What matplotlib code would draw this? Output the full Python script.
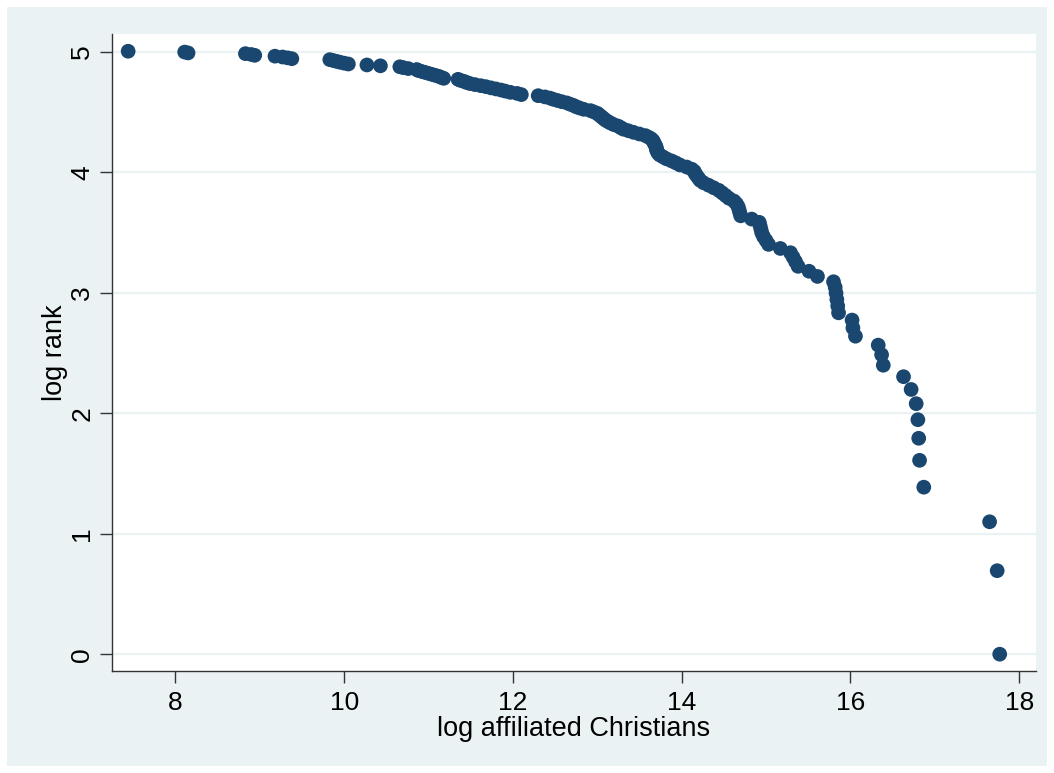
import matplotlib
matplotlib.use("Agg")
import matplotlib.pyplot as plt
from matplotlib.patches import Rectangle

plt.rcParams['font.family'] = ['Liberation Sans', 'DejaVu Sans']

# log affiliated Christians, ordered by rank 1..149
log_christians = [
    17.77, 17.74, 17.65, 16.87, 16.82, 16.81, 16.80, 16.78, 16.72, 16.63,
    16.39, 16.37, 16.33, 16.06, 16.03, 16.02, 15.86, 15.85, 15.84, 15.83,
    15.82, 15.80, 15.61, 15.51, 15.38, 15.35, 15.32, 15.29, 15.17, 15.03,
    15.00, 14.97, 14.95, 14.94, 14.93, 14.92, 14.83, 14.70, 14.69, 14.68,
    14.67, 14.65, 14.62, 14.56, 14.52, 14.48, 14.44, 14.38, 14.32, 14.26,
    14.22, 14.20, 14.18, 14.16, 14.15, 14.12, 14.06, 13.98, 13.93, 13.88,
    13.82, 13.78, 13.74, 13.72, 13.71, 13.70, 13.70, 13.69, 13.68, 13.67,
    13.66, 13.64, 13.61, 13.57, 13.50, 13.43, 13.37, 13.31, 13.28, 13.25,
    13.20, 13.16, 13.13, 13.10, 13.08, 13.06, 13.04, 13.02, 13.00, 12.96,
    12.92, 12.84, 12.79, 12.75, 12.72, 12.68, 12.64, 12.58, 12.53, 12.48,
    12.44, 12.38, 12.30, 12.10, 12.05, 11.97, 11.91, 11.86, 11.80, 11.74,
    11.68, 11.62, 11.55, 11.49, 11.45, 11.42, 11.38, 11.35, 11.18, 11.15,
    11.12, 11.08, 11.04, 11.00, 10.96, 10.92, 10.88, 10.86, 10.76, 10.70,
    10.66, 10.43, 10.27, 10.05, 10.00, 9.95, 9.91, 9.87, 9.83, 9.38,
    9.33, 9.27, 9.18, 8.94, 8.90, 8.83, 8.15, 8.11, 7.44,
]

# log rank (ln of rank 1..149)
log_rank = [
    0.000, 0.693, 1.099, 1.386, 1.609, 1.792, 1.946, 2.079, 2.197, 2.303,
    2.398, 2.485, 2.565, 2.639, 2.708, 2.773, 2.833, 2.890, 2.944, 2.996,
    3.045, 3.091, 3.135, 3.178, 3.219, 3.258, 3.296, 3.332, 3.367, 3.401,
    3.434, 3.466, 3.497, 3.526, 3.555, 3.584, 3.611, 3.638, 3.664, 3.689,
    3.714, 3.738, 3.761, 3.784, 3.807, 3.829, 3.850, 3.871, 3.892, 3.912,
    3.932, 3.951, 3.970, 3.989, 4.007, 4.025, 4.043, 4.060, 4.078, 4.094,
    4.111, 4.127, 4.143, 4.159, 4.174, 4.190, 4.205, 4.220, 4.234, 4.248,
    4.263, 4.277, 4.290, 4.304, 4.317, 4.331, 4.344, 4.357, 4.369, 4.382,
    4.394, 4.407, 4.419, 4.431, 4.443, 4.454, 4.466, 4.477, 4.489, 4.500,
    4.511, 4.522, 4.533, 4.543, 4.554, 4.564, 4.575, 4.585, 4.595, 4.605,
    4.615, 4.625, 4.635, 4.644, 4.654, 4.663, 4.673, 4.682, 4.691, 4.700,
    4.710, 4.718, 4.727, 4.736, 4.745, 4.754, 4.762, 4.771, 4.779, 4.787,
    4.796, 4.804, 4.812, 4.820, 4.828, 4.836, 4.844, 4.852, 4.860, 4.868,
    4.875, 4.883, 4.890, 4.898, 4.905, 4.913, 4.920, 4.927, 4.934, 4.942,
    4.949, 4.956, 4.963, 4.970, 4.977, 4.984, 4.990, 4.997, 5.004,
]

x_ticks = [8, 10, 12, 14, 16, 18]
y_ticks = [0, 1, 2, 3, 4, 5]
x_label = "log affiliated Christians"
y_label = "log rank"

W, H = 1054, 773
fig = plt.figure(figsize=(W / 100, H / 100), dpi=100)
fig.patch.set_facecolor('white')
bg = '#EAF2F3'
fig.patches.append(Rectangle((7 / W, 7 / H), (W - 14) / W, (H - 14) / H,
                             transform=fig.transFigure, facecolor=bg,
                             edgecolor='none', zorder=-10))

ax = fig.add_axes([111.7 / W, 1 - 670.7 / H, (1036 - 111.7) / W, (670.7 - 34) / H])
ax.set_facecolor('white')

ax.scatter(log_christians, log_rank, s=112, color='#1A476F', edgecolors='none', zorder=3)

ax.set_xlim(7.245, 18.2)
ax.set_ylim(-0.137, 5.147)
ax.set_xticks(x_ticks)
ax.set_yticks(y_ticks)
ax.yaxis.grid(True, color=bg, linewidth=1.6, zorder=0)
ax.set_axisbelow(True)

for s in ['top', 'right']:
    ax.spines[s].set_visible(False)
for s in ['left', 'bottom']:
    ax.spines[s].set_color('#333333')
    ax.spines[s].set_linewidth(1.0)

ax.tick_params(axis='both', direction='out', length=8.5, width=1.0, color='#333333',
               labelsize=19, labelcolor='black')
ax.tick_params(axis='x', pad=6)
ax.tick_params(axis='y', pad=4)
for lab in ax.get_yticklabels():
    lab.set_rotation(90)
    lab.set_va('center')

ax.set_xlabel(x_label, fontsize=19.5, labelpad=1)
ax.set_ylabel(y_label, fontsize=19.5, labelpad=2)

fig.savefig('out.png', dpi=100, facecolor=fig.get_facecolor())
